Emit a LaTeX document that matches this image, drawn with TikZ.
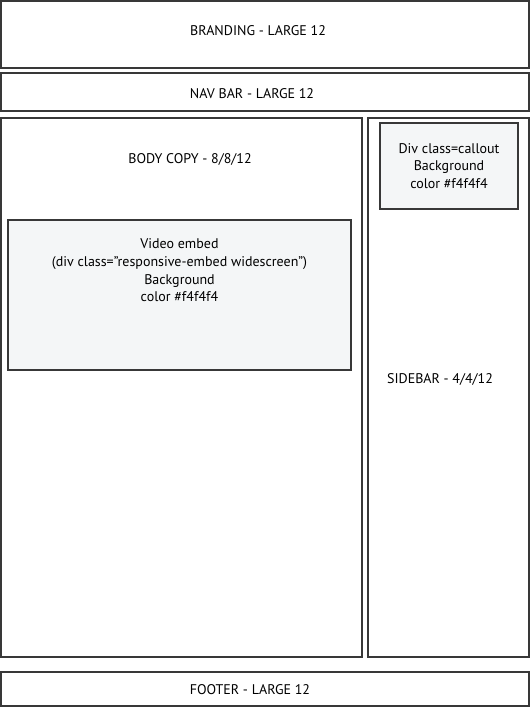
\documentclass[tikz,border=0pt]{standalone}
\usepackage{fontspec}
\setmainfont{PT Sans}
\usetikzlibrary{positioning}
\definecolor{boxgray}{HTML}{F4F6F7}

\begin{document}
\begin{tikzpicture}[x=1pt,y=-1pt,line width=1.3pt,
      region/.style={draw=black!78,rectangle,inner sep=0pt,outer sep=0pt,anchor=north west},
      shaded/.style={region,fill=boxgray},
      lbl/.style={align=center,text=black,font=\fontsize{14}{17.6}\selectfont}]

     \useasboundingbox (0,0) rectangle (531,707);

     \node[region,minimum width=528,minimum height=67] (branding) at (1,1) {};
     \node[region,minimum width=528,minimum height=38] (navbar) at (1,73) {};
     \node[region,minimum width=361,minimum height=539] (body) at (1,118) {};
     \node[region,minimum width=161,minimum height=539] (sidebar) at (368,118) {};
     \node[region,minimum width=528,minimum height=34] (footer) at (1,672) {};
     \node[shaded,minimum width=138,minimum height=86] (callout) at (380,123) {};
     \node[shaded,minimum width=343,minimum height=150] (video) at (8,220) {};

     \node[lbl] (brandinglbl) at (258,31) {BRANDING - LARGE 12};
     \node[lbl] (navbarlbl) at (252,94) {NAV BAR - LARGE 12};
     \node[lbl] (footerlbl) at (250,690) {FOOTER - LARGE 12};
     \node[lbl] (bodylbl) at (190,159) {BODY COPY - 8/8/12};
     \node[lbl] (sidebarlbl) at (440,379) {SIDEBAR - 4/4/12};
     \node[lbl] (calloutlbl) at (449,166) {Div class=callout\\Background\\color \#f4f4f4};
     \node[lbl,below=15pt of video.north] (videolbl) {Video embed\\(div class=”responsive-embed widescreen”)\\Background\\color \#f4f4f4};

    \end{tikzpicture}
\end{document}
